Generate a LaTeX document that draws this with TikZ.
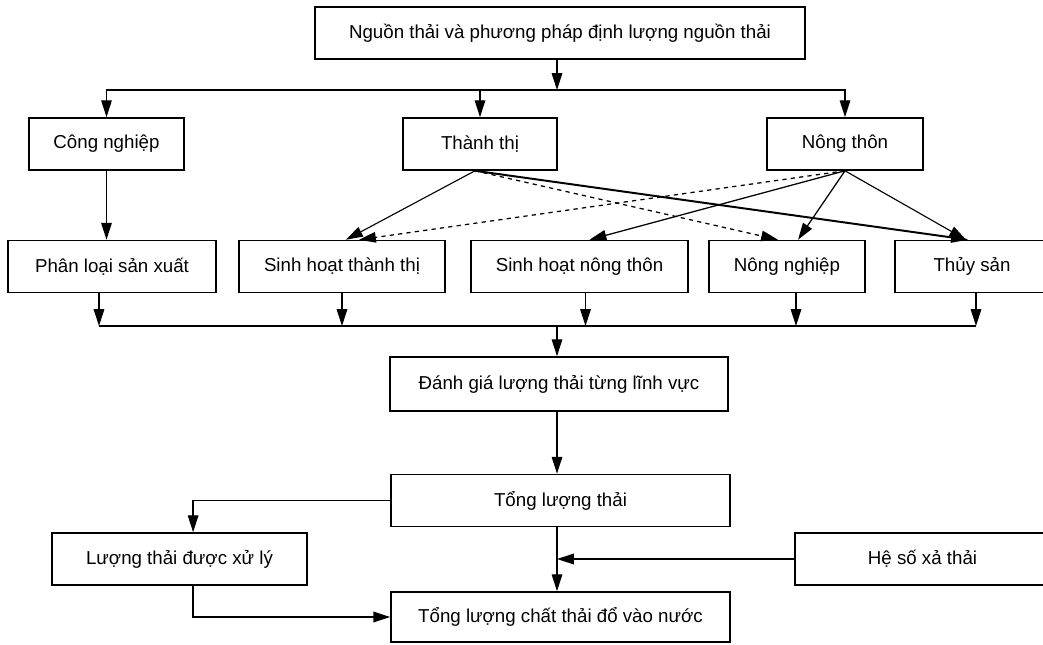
\documentclass[tikz,border=0pt]{standalone}
\usepackage{fontspec}
\setmainfont{Liberation Sans}
\usetikzlibrary{positioning,arrows.meta,calc}

\begin{document}
\begin{tikzpicture}[
    x=0.025cm, y=-0.025cm,
    every node/.style={font=\fontsize{13.3}{16}\selectfont},
    block/.style={rectangle, draw=black, line width=1.1pt, fill=white,
                  minimum width=#1, minimum height=1.3cm, align=center, inner sep=0pt},
    arrow/.style={-{Triangle[length=12pt,width=7.5pt]}, line width=0.9pt},
    link/.style={line width=0.9pt},
]
\useasboundingbox (0,0) rectangle (1043,644);

% Source
\node[block=12.25cm] (nguon) at (560,33) {Nguồn thải và phương pháp định lượng nguồn thải};

% Sectors
\node[block=3.875cm] (cong) at (106.5,144) {Công nghiệp};
\node[block=3.85cm] (thanh) at (480,144) {Thành thị};
\node[block=3.9cm] (nong) at (845,144) {Nông thôn};

% Sub-sectors
\node[block=5.2cm] (phanloai) at (112,266.5) {Phân loại sản xuất};
\node[block=5.15cm] (shtt) at (342,266.5) {Sinh hoạt thành thị};
\node[block=5.425cm] (shnt) at (579.5,266.5) {Sinh hoạt nông thôn};
\node[block=3.9cm] (nnghiep) at (787,266.5) {Nông nghiệp};
\node[block=3.85cm] (thuysan) at (972,266.5) {Thủy sản};

% Evaluation
\node[block=8.45cm, minimum height=1.35cm] (danhgia) at (559,384) {Đánh giá lượng thải từng lĩnh vực};
\node[block=8.475cm] (tong) at (560.5,500.5) {Tổng lượng thải};
\node[block=6.375cm] (xuly) at (179.5,559) {Lượng thải được xử lý};
\node[block=6.375cm] (heso) at (922.5,559) {Hệ số xả thải};
\node[block=8.475cm, minimum height=1.25cm] (tongchat) at (560.5,617) {Tổng lượng chất thải đổ vào nước};

% Source to sectors
\coordinate (bus1) at (557,90);
\draw[arrow] (nguon.south -| bus1) -- (bus1);
\draw[link] (cong.north |- bus1) -- (nong.north |- bus1);
\draw[arrow] (bus1) -| (cong.north);
\draw[arrow] (bus1) -| (thanh.north);
\draw[arrow] (bus1) -| (nong.north);

% Sectors to sub-sectors
\draw[arrow] (cong.south) -- (cong.south |- phanloai.north);
\draw[arrow, line width=0.8pt] ([xshift=-0.125cm]thanh.south) -- ([xshift=0.1cm]shtt.north);
\draw[arrow, dashed] ([xshift=-0.125cm]thanh.south) -- ([xshift=-0.225cm]nnghiep.north);
\draw[arrow, line width=1.4pt] ([xshift=-0.125cm]thanh.south) -- ([xshift=-0.1cm]thuysan.north);
\draw[arrow, dashed] (nong.south) -- ([xshift=0.425cm]shtt.north);
\draw[arrow] (nong.south) -- ([xshift=0.25cm]shnt.north);
\draw[arrow] (nong.south) -- ([xshift=0.275cm]nnghiep.north);
\draw[arrow, line width=0.8pt] (nong.south) -- ([xshift=-0.15cm]thuysan.north);

% Sub-sectors to evaluation
\coordinate (bus2) at (557,326);
\draw[link] ([xshift=-0.325cm]phanloai.south |- bus2) -- ([xshift=0.1cm]thuysan.south |- bus2);
\draw[arrow] ([xshift=-0.325cm]phanloai.south) -- ([xshift=-0.325cm]phanloai.south |- bus2);
\draw[arrow] (shtt.south) -- (shtt.south |- bus2);
\draw[arrow] ([xshift=0.15cm]shnt.south) -- ([xshift=0.15cm]shnt.south |- bus2);
\draw[arrow] ([xshift=0.225cm]nnghiep.south) -- ([xshift=0.225cm]nnghiep.south |- bus2);
\draw[arrow] ([xshift=0.1cm]thuysan.south) -- ([xshift=0.1cm]thuysan.south |- bus2);
\draw[arrow] (bus2) -- (bus2 |- danhgia.north);

% Totals
\draw[arrow] (danhgia.south -| bus2) -- (bus2 |- tong.north);
\draw[arrow] (tong.west) -| ([xshift=0.34cm]xuly.north);
\draw[arrow] (tong.south -| bus2) -- (bus2 |- tongchat.north);
\draw[arrow, line width=1.2pt] (heso.west) -- (bus2 |- heso.west);
\draw[arrow, line width=1.2pt] ([xshift=0.34cm]xuly.south) |- (tongchat.west);

\end{tikzpicture}
\end{document}
